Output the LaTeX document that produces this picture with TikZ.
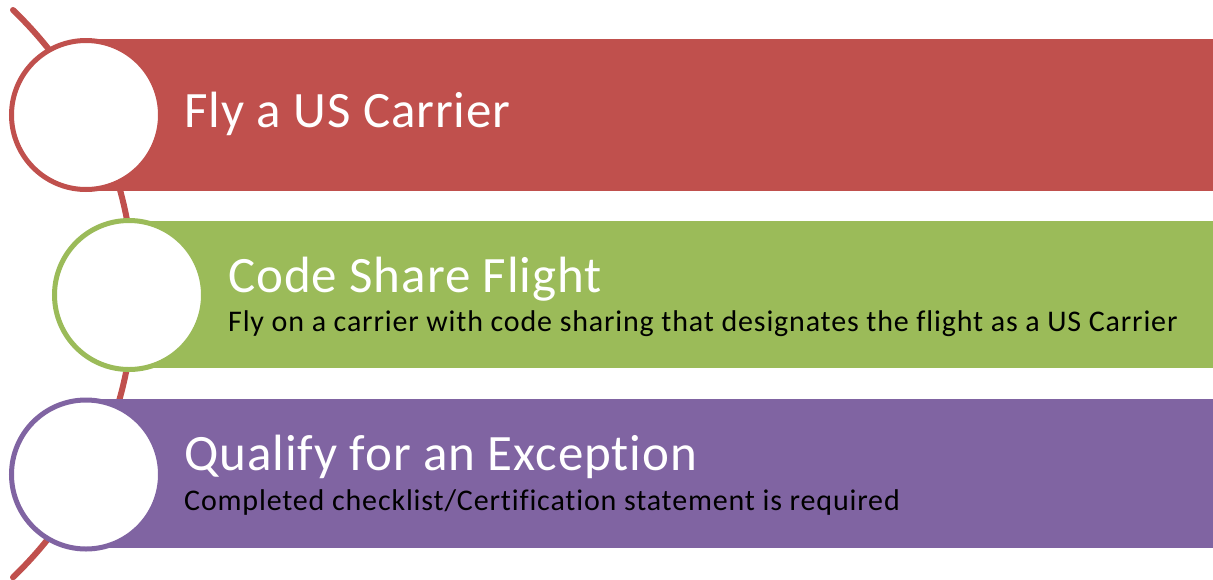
\documentclass[tikz,border=0pt]{standalone}
\usepackage{fontspec}
\setmainfont[Ligatures=NoCommon]{Carlito}
\newfontfamily\titlefont[Ligatures=NoCommon, LetterSpace=1.8]{Carlito}
\newfontfamily\subfont[Ligatures=NoCommon, LetterSpace=2.8]{Carlito}
\definecolor{barred}{HTML}{C0504D}
\definecolor{bargreen}{HTML}{9BBB59}
\definecolor{barpurple}{HTML}{8064A2}
\begin{document}
\begin{tikzpicture}[x=1pt,y=-1pt,
    bar/.style={rectangle, inner sep=0pt, minimum width=1127pt},
    ring/.style={circle, fill=white, line width=5pt, inner sep=0pt, minimum size=149pt},
    title/.style={anchor=base west, inner sep=0pt, text=white, font=\titlefont\fontsize{51}{60}\selectfont},
    sub/.style={anchor=base west, inner sep=0pt, text=black, font=\subfont\fontsize{30}{36}\selectfont}]
        \useasboundingbox (0,0) rectangle (1213,579);

        % the curved spine behind the rings
        \coordinate (T) at (13,10);
        \draw [barred, line width=6pt, line cap=round] (T) arc [start angle=-46.2, end angle=46.2, radius=393];

        \node [bar, fill=barred, minimum height=152pt] (A) at (649.5,115) {};
        \node [bar, fill=bargreen, minimum width=1084pt, minimum height=147pt] (B) at (671,294.5) {};
        \node [bar, fill=barpurple, minimum height=149pt] (C) at (649.5,473.5) {};

        \node [ring, draw=barred] (a) at (86,115) {};
        \node [ring, draw=bargreen] (b) at (129,295) {};
        \node [ring, draw=barpurple] (c) at (86,474.5) {};

        \node [title] (A1) at (184,127) {Fly a US Carrier};
        \node [title] (B1) at (228,292) {Code Share Flight};
        \node [sub] (B2) at (228,331) {Fly on a carrier with code sharing that designates the flight as a US Carrier};
        \node [title] (C1) at (184,470) {Qualify for an Exception};
        \node [sub] (C2) at (184,510) {Completed checklist/Certification statement is required};
\end{tikzpicture}
\end{document}
